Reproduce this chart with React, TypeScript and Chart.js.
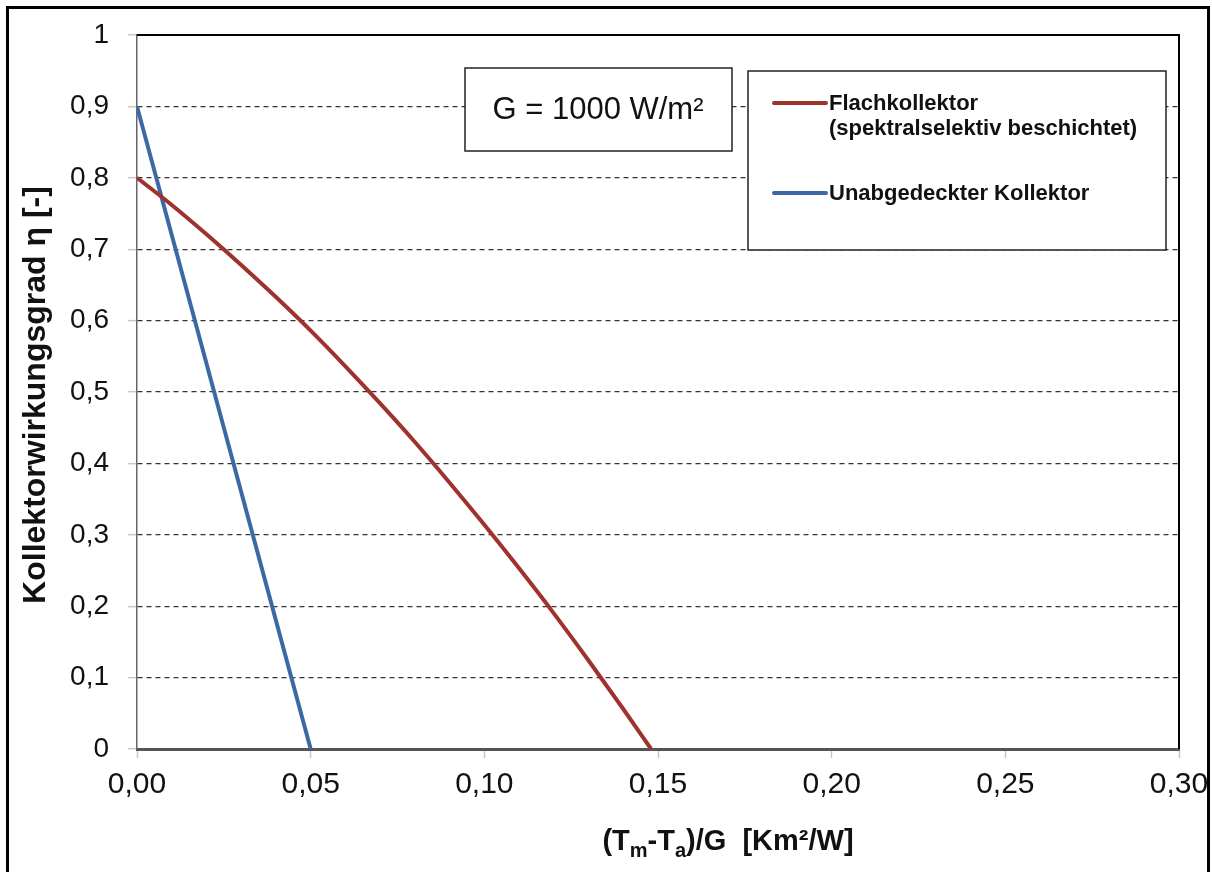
import React, { useEffect, useRef } from 'react';
import { Chart, registerables } from 'chart.js';

Chart.register(...registerables);

// Data
const flachX = [0, 0.01, 0.02, 0.03, 0.04, 0.05, 0.06, 0.07, 0.08, 0.09, 0.10, 0.11, 0.12, 0.13, 0.14, 0.148];
const flachY = [0.800, 0.762, 0.721, 0.678, 0.633, 0.586, 0.536, 0.484, 0.430, 0.373, 0.314, 0.253, 0.190, 0.124, 0.056, 0.0];
const unabX = [0, 0.05];
const unabY = [0.9, 0.0];

const xTickLabels = ['0,00', '0,05', '0,10', '0,15', '0,20', '0,25', '0,30'];
const yTickLabels = ['0', '0,1', '0,2', '0,3', '0,4', '0,5', '0,6', '0,7', '0,8', '0,9', '1'];

const seriesNames = ['Flachkollektor', '(spektralselektiv beschichtet)', 'Unabgedeckter Kollektor'];
const infoText = 'G = 1000 W/m²';
const yTitle = 'Kollektorwirkungsgrad η [-]';

const RED = '#A0322E';
const BLUE = '#3C68A4';
const FONT = '"Liberation Sans", Arial, sans-serif';

const W = 1212;
const H = 872;

const decorPlugin = {
  id: 'decor',
  afterDatasetsDraw(chart: any) {
    const ctx = chart.ctx;
    const ca = chart.chartArea;
    ctx.save();
    // plot area top/right border
    ctx.strokeStyle = '#000';
    ctx.lineWidth = 2;
    ctx.beginPath();
    ctx.moveTo(ca.left, ca.top);
    ctx.lineTo(ca.right, ca.top);
    ctx.lineTo(ca.right, ca.bottom);
    ctx.stroke();

    // info box
    ctx.fillStyle = '#fff';
    ctx.fillRect(465, 68, 267, 83);
    ctx.strokeStyle = '#222';
    ctx.lineWidth = 1.5;
    ctx.strokeRect(465, 68, 267, 83);
    ctx.fillStyle = '#111';
    ctx.font = `31px ${FONT}`;
    ctx.textAlign = 'center';
    ctx.textBaseline = 'middle';
    ctx.fillText(infoText, 598, 110);

    // legend box
    ctx.fillStyle = '#fff';
    ctx.fillRect(748, 71, 418, 179);
    ctx.strokeStyle = '#222';
    ctx.lineWidth = 1.5;
    ctx.strokeRect(748, 71, 418, 179);
    ctx.lineCap = 'round';
    ctx.lineWidth = 4;
    ctx.strokeStyle = RED;
    ctx.beginPath();
    ctx.moveTo(774, 103);
    ctx.lineTo(826, 103);
    ctx.stroke();
    ctx.strokeStyle = BLUE;
    ctx.beginPath();
    ctx.moveTo(774, 193);
    ctx.lineTo(826, 193);
    ctx.stroke();
    ctx.fillStyle = '#111';
    ctx.font = `bold 22px ${FONT}`;
    ctx.textAlign = 'left';
    ctx.textBaseline = 'middle';
    ctx.fillText(seriesNames[0], 829, 104);
    ctx.fillText(seriesNames[1], 829, 129);
    ctx.fillText(seriesNames[2], 829, 194);

    // y axis title
    ctx.save();
    ctx.translate(36, 395);
    ctx.rotate(-Math.PI / 2);
    ctx.font = `bold 32px ${FONT}`;
    ctx.textAlign = 'center';
    ctx.textBaseline = 'middle';
    ctx.fillStyle = '#111';
    ctx.fillText(yTitle, 0, 0);
    ctx.restore();

    // x axis title with subscripts
    const parts: [string, boolean][] = [
      ['(T', false], ['m', true], ['-T', false], ['a', true], [')/G  [Km²/W]', false],
    ];
    const big = `bold 29px ${FONT}`;
    const small = `bold 20px ${FONT}`;
    let total = 0;
    for (const [t, sub] of parts) {
      ctx.font = sub ? small : big;
      total += ctx.measureText(t).width;
    }
    let x = 728 - total / 2;
    const base = 850;
    ctx.textAlign = 'left';
    ctx.textBaseline = 'alphabetic';
    for (const [t, sub] of parts) {
      ctx.font = sub ? small : big;
      ctx.fillText(t, x, sub ? base + 7 : base);
      x += ctx.measureText(t).width;
    }

    // outer frame
    ctx.strokeStyle = '#000';
    ctx.lineWidth = 3;
    ctx.beginPath();
    ctx.moveTo(7.5, H + 5);
    ctx.lineTo(7.5, 7.5);
    ctx.lineTo(1208.5, 7.5);
    ctx.lineTo(1208.5, H + 5);
    ctx.stroke();
    ctx.restore();
  },
};

export default function App() {
  const ref = useRef<HTMLCanvasElement | null>(null);

  useEffect(() => {
    if (!ref.current) return;
    const chart = new Chart(ref.current, {
      type: 'line',
      data: {
        datasets: [
          {
            label: seriesNames[0],
            data: flachX.map((x, i) => ({ x, y: flachY[i] })),
            borderColor: RED,
            borderWidth: 4,
            pointRadius: 0,
            cubicInterpolationMode: 'monotone',
            fill: false,
          },
          {
            label: seriesNames[2],
            data: unabX.map((x, i) => ({ x, y: unabY[i] })),
            borderColor: BLUE,
            borderWidth: 4,
            pointRadius: 0,
            fill: false,
          },
        ],
      },
      options: {
        animation: false,
        responsive: false,
        layout: { padding: { left: 0, top: 35, right: 33, bottom: 0 } },
        plugins: { legend: { display: false }, tooltip: { enabled: false }, title: { display: false } },
        scales: {
          x: {
            type: 'linear',
            min: 0,
            max: 0.3,
            afterFit: (s: any) => { s.height = 123; s.paddingLeft = 0; s.paddingRight = 0; },
            ticks: {
              stepSize: 0.05,
              padding: 9,
              maxRotation: 0,
              color: '#111',
              font: { family: FONT, size: 30 },
              callback: (_v: any, i: number) => xTickLabels[i],
            },
            grid: {
              drawOnChartArea: false,
              drawTicks: true,
              tickLength: 9,
              tickColor: '#c8c8c8',
              tickWidth: 1.5,
            },
            border: { color: '#555', width: 3 },
          },
          y: {
            type: 'linear',
            min: 0,
            max: 1,
            afterFit: (s: any) => { s.width = 137; s.paddingTop = 0; s.paddingBottom = 0; },
            ticks: {
              stepSize: 0.1,
              padding: 19,
              color: '#111',
              font: { family: FONT, size: 28 },
              callback: (_v: any, i: number) => yTickLabels[i],
            },
            grid: {
              drawOnChartArea: true,
              color: (c: any) => (c.index === 0 || c.index === 10 ? 'rgba(0,0,0,0)' : '#333'),
              lineWidth: 1.3,
              drawTicks: true,
              tickLength: 9,
              tickColor: '#c8c8c8',
              tickWidth: 1.5,
              tickBorderDash: [],
            },
            border: { color: '#666', width: 1.5, dash: [5, 4] },
          },
        },
      },
      plugins: [decorPlugin],
    } as any);
    return () => chart.destroy();
  }, []);

  return (
    <div style={{ position: 'absolute', left: 0, top: 0, width: W, height: H, background: '#fff' }}>
      <canvas ref={ref} width={W} height={H} style={{ display: 'block', width: W, height: H }} />
    </div>
  );
}
